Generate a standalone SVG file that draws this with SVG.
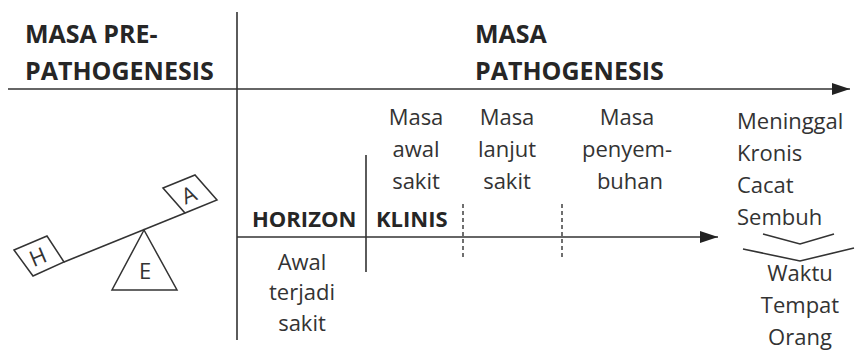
<svg xmlns="http://www.w3.org/2000/svg" width="858" height="357" viewBox="0 0 858 357">
  <style>
    .head { font-family: "Open Sans", "Noto Sans", sans-serif; font-weight: 700; font-size: 25px; fill: #262626; }
    .bold { font-family: "Open Sans", "Noto Sans", sans-serif; font-weight: 700; font-size: 22px; fill: #262626; }
    .txt { font-family: "Open Sans", "Noto Sans", sans-serif; font-size: 22px; fill: #333; }
    .mid { text-anchor: middle; }
    .ln { stroke: #333; stroke-width: 1.6; fill: none; }
    .dash { stroke: #333; stroke-width: 1.4; stroke-dasharray: 4 3; fill: none; }
    .shape { stroke: #333; stroke-width: 1.5; fill: #fff; stroke-linejoin: miter; }
  </style>
  <defs>
    <marker id="head" viewBox="0 0 10 8" refX="10" refY="4" markerWidth="10" markerHeight="8" markerUnits="userSpaceOnUse" orient="auto">
      <path d="M0,0 L10,4 L0,8 Z" fill="#222"/>
    </marker>
    <marker id="headBig" viewBox="0 0 18 12" refX="18" refY="6" markerWidth="18" markerHeight="12" markerUnits="userSpaceOnUse" orient="auto">
      <path d="M0,0 L18,6 L0,12 Z" fill="#222"/>
    </marker>
  </defs>

  <!-- timeline axes and dividers -->
  <g id="connectors">
    <line class="ln" x1="8" y1="89" x2="850" y2="89" marker-end="url(#headBig)"/>
    <line class="ln" x1="237" y1="12" x2="237" y2="340"/>
    <line class="ln" x1="237" y1="237" x2="718" y2="237" marker-end="url(#headBig)"/>
    <line class="ln" x1="366" y1="155" x2="366" y2="272"/>
    <line class="dash" x1="463" y1="204" x2="463" y2="258"/>
    <line class="dash" x1="562" y1="204" x2="562" y2="258"/>
    <!-- chevrons -->
    <polyline class="ln" points="763,234 800,244 834,234"/>
    <polyline class="ln" points="743,249 800,261 854,248"/>
  </g>

  <!-- section headings -->
  <g id="pre-pathogenesis">
    <text class="head" x="25" y="43">MASA PRE-</text>
    <text class="head" x="25" y="80">PATHOGENESIS</text>
  </g>
  <g id="pathogenesis">
    <text class="head" x="475" y="43">MASA</text>
    <text class="head" x="475" y="80">PATHOGENESIS</text>
  </g>

  <!-- seesaw: host, agent, environment -->
  <g id="seesaw">
    <line class="ln" x1="64" y1="262" x2="185" y2="213"/>
    <polygon class="shape" points="14,250 47,236 64,262 33,276"/>
    <polygon class="shape" points="163,188 195,175 217,200 185,213"/>
    <polygon class="shape" points="144,230 112,290 177,290"/>
    <text class="txt mid" x="0" y="0" transform="translate(41,264) rotate(-23)" font-size="20">H</text>
    <text class="txt mid" x="0" y="0" transform="translate(192,202) rotate(-23)" font-size="20">A</text>
    <text class="txt mid" x="145" y="279">E</text>
  </g>

  <!-- horizon / klinis -->
  <g id="horizon">
    <text class="bold" x="252" y="227">HORIZON</text>
    <text class="txt mid" x="302" y="270">Awal</text>
    <text class="txt mid" x="302" y="300">terjadi</text>
    <text class="txt mid" x="302" y="331">sakit</text>
  </g>
  <g id="klinis">
    <text class="bold" x="376" y="227">KLINIS</text>
  </g>

  <!-- stages -->
  <g id="masa-awal">
    <text class="txt mid" x="416" y="125">Masa</text>
    <text class="txt mid" x="416" y="157">awal</text>
    <text class="txt mid" x="416" y="189">sakit</text>
  </g>
  <g id="masa-lanjut">
    <text class="txt mid" x="507" y="125">Masa</text>
    <text class="txt mid" x="507" y="157">lanjut</text>
    <text class="txt mid" x="507" y="189">sakit</text>
  </g>
  <g id="masa-penyembuhan">
    <text class="txt mid" x="627" y="125">Masa</text>
    <text class="txt mid" x="627" y="157">penyem-</text>
    <text class="txt mid" x="630" y="189">buhan</text>
  </g>
  <g id="outcome">
    <text class="txt" x="737" y="129">Meninggal</text>
    <text class="txt" x="737" y="161">Kronis</text>
    <text class="txt" x="737" y="193">Cacat</text>
    <text class="txt" x="737" y="225">Sembuh</text>
  </g>
  <g id="factors">
    <text class="txt mid" x="800" y="281">Waktu</text>
    <text class="txt mid" x="800" y="313">Tempat</text>
    <text class="txt mid" x="800" y="345">Orang</text>
  </g>
</svg>
